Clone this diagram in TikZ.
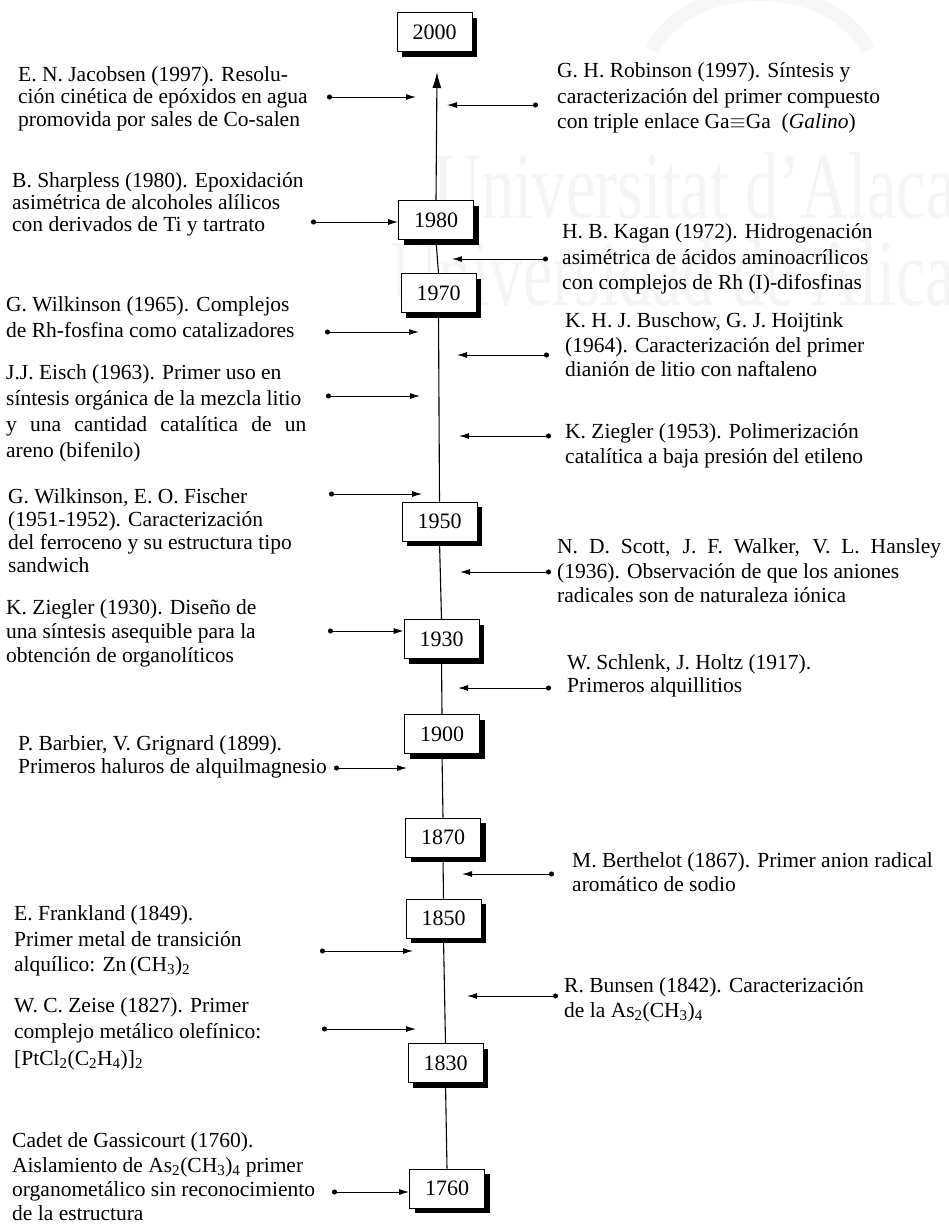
\documentclass[tikz,border=0pt]{standalone}
\usepackage{fontspec}
\setmainfont{Liberation Serif}
\usetikzlibrary{arrows.meta,shadows}

% body text size with a per-block line spacing
\newcommand\notefont[1]{\fontsize{21.5}{#1}\selectfont}

\begin{document}
\begin{tikzpicture}[x=1pt,y=-1pt,
  yearbox/.style={draw, line width=0.8pt, fill=white,
    minimum width=75pt, minimum height=39pt, inner sep=0pt,
    font=\fontsize{22}{24}\selectfont,
    drop shadow={shadow xshift=5pt, shadow yshift=-5pt, fill=black, opacity=1}},
  note/.style={anchor=north west, inner sep=0pt, align=left},
  event/.style={line width=1pt, {Circle[length=5pt]}-{Latex[length=10pt,width=6pt]}},
  axis/.style={line width=1.1pt},
  wm/.style={text=black!4, font=\fontsize{95}{95}\selectfont, anchor=base west,
    inner sep=0pt, xscale=0.70, transform shape},
  wmline/.style={draw=black!3, line width=14pt}]

\useasboundingbox (0,0) rectangle (949,1232);

% faint background emblem and lettering
\begin{scope}
  \clip (0,0) rectangle (949,1232);
  \draw[wmline] (652,50) .. controls (690,-25) and (830,-25) .. (868,50);
  \node[wm] (wmA) at (433,218) {Universitat d’Alacant};
  \node[wm] (wmB) at (390,305) {Universidad de Alicante};
\end{scope}

% year boxes
\node[yearbox] (y2000) at (434.5,32)  {2000};
\node[yearbox] (y1980) at (436,220)   {1980};
\node[yearbox] (y1970) at (438.5,293) {1970};
\node[yearbox] (y1950) at (439.5,521.5) {1950};
\node[yearbox] (y1930) at (441.5,639) {1930};
\node[yearbox] (y1900) at (442,734)   {1900};
\node[yearbox] (y1870) at (443,837.5) {1870};
\node[yearbox] (y1850) at (443.5,918.5) {1850};
\node[yearbox] (y1830) at (445.5,1063) {1830};
\node[yearbox] (y1760) at (447,1188.5) {1760};

% time axis
\coordinate (top) at (437,72);
\draw[axis] (y1760.north) -- (y1830.south);
\draw[axis] (y1830.north) -- (y1850.south);
\draw[axis] (y1850.north) -- (y1870.south);
\draw[axis] (y1870.north) -- (y1900.south);
\draw[axis] (y1900.north) -- (y1930.south);
\draw[axis] (y1930.north) -- (y1950.south);
\draw[axis] (y1950.north) -- (y1970.south);
\draw[axis] (y1970.north) -- (y1980.south);
\draw[axis, -{Latex[length=16pt,width=9pt]}] (y1980.north) -- (top);

% events on the left
\node[note, font=\notefont{22.5}] (jacobsen) at (18,65.5)
  {\strut E. N. Jacobsen (1997). Resolu-\\ción cinética de epóxidos en agua\\promovida por sales de Co-salen};
\node[note, font=\notefont{22}] (sharpless) at (12,171.5)
  {\strut B. Sharpless (1980). Epoxidación\\asimétrica de alcoholes alílicos\\con derivados de Ti y tartrato};
\node[note, font=\notefont{26}] (wilkinson) at (6,293.5)
  {\strut G. Wilkinson (1965). Complejos\\de Rh-fosfina como catalizadores};
\node[note, font=\notefont{26}] (eisch) at (6,361.5)
  {\strut J.J. Eisch (1963). Primer uso en\\síntesis orgánica de la mezcla litio\\\makebox[300pt][s]{y una cantidad catalítica de un}\\areno (bifenilo)};
\node[note, font=\notefont{23.3}] (fischer) at (8,486.5)
  {\strut G. Wilkinson, E. O. Fischer\\(1951-1952). Caracterización\\del ferroceno y su estructura tipo\\sandwich};
\node[note, font=\notefont{24}] (ziegA) at (6,597.5)
  {\strut K. Ziegler (1930). Diseño de\\una síntesis asequible para la\\obtención de organolíticos};
\node[note, font=\notefont{23}] (barbier) at (18,734.5)
  {\strut P. Barbier, V. Grignard (1899).\\Primeros haluros de alquilmagnesio};
\node[note, font=\notefont{25.5}] (frankland) at (14,902.5)
  {\strut E. Frankland (1849).\\Primer metal de transición\\alquílico: Zn\,(CH\textsubscript{3})\textsubscript{2}};
\node[note, font=\notefont{26.5}] (zeise) at (14,993.5)
  {\strut W. C. Zeise (1827). Primer\\complejo metálico olefínico:\\{[}PtCl\textsubscript{2}(C\textsubscript{2}H\textsubscript{4})]\textsubscript{2}};
\node[note, font=\notefont{24.3}] (cadet) at (12,1130.5)
  {\strut Cadet de Gassicourt (1760).\\Aislamiento de As\textsubscript{2}(CH\textsubscript{3})\textsubscript{4} primer\\organometálico sin reconocimiento\\de la estructura};

% events on the right
\node[note, font=\notefont{25.5}] (robinson) at (557,59.5)
  {\strut G. H. Robinson (1997). Síntesis y\\caracterización del primer compuesto\\con triple enlace Ga$\equiv$Ga\enspace(\textit{Galino})};
\node[note, font=\notefont{25.5}] (kagan) at (562,220.5)
  {\strut H. B. Kagan (1972). Hidrogenación\\asimétrica de ácidos aminoacrílicos\\con complejos de Rh (I)-difosfinas};
\node[note, font=\notefont{24.5}] (buschow) at (565,310.5)
  {\strut K. H. J. Buschow, G. J. Hoijtink\\(1964). Caracterización del primer\\dianión de litio con naftaleno};
\node[note, font=\notefont{25}] (ziegB) at (565,420.5)
  {\strut K. Ziegler (1953). Polimerización\\catalítica a baja presión del etileno};
\node[note, font=\notefont{24.5}] (scott) at (557,536.5)
  {\strut \makebox[384pt][s]{N. D. Scott, J. F. Walker, V. L. Hansley}\\(1936). Observación de que los aniones\\radicales son de naturaleza iónica};
\node[note, font=\notefont{23}] (schlenk) at (567,653.5)
  {\strut W. Schlenk, J. Holtz (1917).\\Primeros alquillitios};
\node[note, font=\notefont{24}] (berthelot) at (572,850.5)
  {\strut M. Berthelot (1867). Primer anion radical\\aromático de sodio};
\node[note, font=\notefont{25}] (bunsen) at (564,974.5)
  {\strut R. Bunsen (1842). Caracterización\\de la As\textsubscript{2}(CH\textsubscript{3})\textsubscript{4}};

% arrow ends
\coordinate (jacA) at (327,97);   \coordinate (jacB) at (416,97);
\coordinate (shaA) at (311,222);
\coordinate (wilA) at (325,332);  \coordinate (wilB) at (419,332);
\coordinate (eisA) at (326,396);  \coordinate (eisB) at (420,396);
\coordinate (fisA) at (329,494);  \coordinate (fisB) at (422,494);
\coordinate (zgaA) at (328,631);
\coordinate (barA) at (334,768);  \coordinate (barB) at (407,768);
\coordinate (fraA) at (320,951);  \coordinate (fraB) at (413,951);
\coordinate (zeiA) at (322,1029); \coordinate (zeiB) at (416,1029);
\coordinate (cadA) at (332,1192);

\coordinate (robA) at (538,105);  \coordinate (robB) at (447,105);
\coordinate (kagA) at (548,259);  \coordinate (kagB) at (452,259);
\coordinate (busA) at (549,355);  \coordinate (busB) at (457,355);
\coordinate (zgbA) at (551,436);  \coordinate (zgbB) at (459,436);
\coordinate (scoA) at (551,572);  \coordinate (scoB) at (460,572);
\coordinate (schA) at (551,688);  \coordinate (schB) at (458,688);
\coordinate (berA) at (554,874);  \coordinate (berB) at (462,874);
\coordinate (bunA) at (558,996);  \coordinate (bunB) at (467,996);

% event pointers
\draw[event] (jacA) -- (jacB);
\draw[event] (shaA) -- (y1980.west |- shaA);
\draw[event] (wilA) -- (wilB);
\draw[event] (eisA) -- (eisB);
\draw[event] (fisA) -- (fisB);
\draw[event] (zgaA) -- (y1930.west |- zgaA);
\draw[event] (barA) -- (barB);
\draw[event] (fraA) -- (fraB);
\draw[event] (zeiA) -- (zeiB);
\draw[event] (cadA) -- (y1760.west |- cadA);

\draw[event] (robA) -- (robB);
\draw[event] (kagA) -- (kagB);
\draw[event] (busA) -- (busB);
\draw[event] (zgbA) -- (zgbB);
\draw[event] (scoA) -- (scoB);
\draw[event] (schA) -- (schB);
\draw[event] (berA) -- (berB);
\draw[event] (bunA) -- (bunB);
\end{tikzpicture}
\end{document}
